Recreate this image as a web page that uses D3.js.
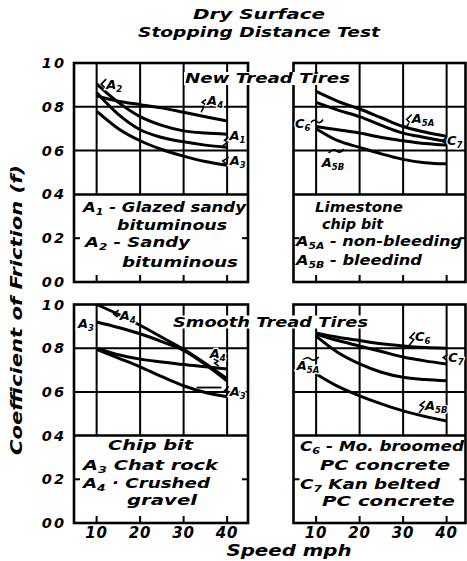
<!DOCTYPE html>
<html><head><meta charset="utf-8">
<script src="https://cdn.jsdelivr.net/npm/d3@7"></script>
<style>
html,body{margin:0;padding:0;background:#fff;}
svg{display:block;}
text{font-family:"DejaVu Sans",sans-serif;font-weight:bold;font-style:oblique;fill:#000;}
</style></head><body>
<svg id="c" width="467" height="561"></svg>
<script>
// ---------------- data ----------------
const speeds = [10, 15, 20, 25, 30, 35, 40];
const xTicks = [10, 20, 30, 40];
const xTickLabels = ["10", "20", "30", "40"];
const yTicks = [1.0, 0.8, 0.6, 0.4, 0.2, 0.0];
const yTickLabels = ["10", "08", "06", "04", "02", "00"];

// New tread tires - bituminous surfaces
const newA4 = [0.85, 0.825, 0.81, 0.795, 0.775, 0.755, 0.735];
const newA2 = [0.905, 0.82, 0.755, 0.715, 0.69, 0.68, 0.675];
const newA1 = [0.865, 0.765, 0.695, 0.66, 0.64, 0.625, 0.615];
const newA3 = [0.78, 0.70, 0.645, 0.605, 0.575, 0.55, 0.533];
// New tread tires - limestone chip / concrete
const newA5A = [0.87, 0.825, 0.79, 0.75, 0.71, 0.685, 0.665];
const newC7  = [0.82, 0.785, 0.755, 0.715, 0.68, 0.66, 0.642];
const newC6  = [0.71, 0.695, 0.68, 0.66, 0.645, 0.632, 0.625];
const newA5B = [0.70, 0.645, 0.615, 0.585, 0.56, 0.545, 0.54];
// Smooth tread tires - chip bit
const smA4a = [1.0, 0.955, 0.905, 0.85, 0.795, 0.73, 0.66];
const smA3a = [0.92, 0.895, 0.866, 0.83, 0.79, 0.725, 0.65];
const smA4b = [0.80, 0.77, 0.75, 0.737, 0.725, 0.715, 0.705];
const smA3b = [0.795, 0.755, 0.715, 0.67, 0.628, 0.597, 0.578];
// Smooth tread tires - concrete / limestone
const smC6  = [0.87, 0.85, 0.835, 0.82, 0.81, 0.803, 0.80];
const smC7  = [0.865, 0.835, 0.81, 0.785, 0.76, 0.742, 0.728];
const smA5A = [0.855, 0.78, 0.728, 0.69, 0.667, 0.657, 0.651];
const smA5B = [0.682, 0.625, 0.582, 0.545, 0.513, 0.488, 0.467];

const titleLines = ["Dry  Surface", "Stopping Distance Test"];
const yTitle = "Coefficient of Friction (f)";
const xTitle = "Speed mph";
const bandTop = "New Tread Tires";
const bandBottom = "Smooth Tread Tires";
const legendTL = ["A_{1} - Glazed sandy", "bituminous", "A_{2} - Sandy", "bituminous"];
const legendTR = ["Limestone", "chip bit", "A_{5A} - non-bleeding", "A_{5B} - bleedind"];
const legendBL = ["Chip bit", "A_{3} Chat rock", "A_{4} · Crushed", "gravel"];
const legendBR = ["C_{6} - Mo. broomed", "PC concrete", "C_{7} Kan belted", "PC concrete"];

// ---------------- layout ----------------
const svg = d3.select("#c");
const xL = d3.scaleLinear().domain([4.8, 44.8]).range([74, 248]);
const xR = d3.scaleLinear().domain([4.8, 44.8]).range([293.5, 467.5]);
const yT = d3.scaleLinear().domain([0, 1]).range([282, 63]);
const yB = d3.scaleLinear().domain([0, 1]).range([523, 304.5]);
const RIGHT_EDGE = 465.5;

function rich(sel, str, subSize) {
  const parts = str.split(/(_\{[^}]*\})/).filter(s => s.length);
  let shifted = false;
  parts.forEach(p => {
    if (p.startsWith("_{")) {
      sel.append("tspan").attr("font-size", subSize).attr("dy", 3).text(p.slice(2, -1));
      shifted = true;
    } else {
      sel.append("tspan").attr("dy", shifted ? -3 : 0).text(p);
      shifted = false;
    }
  });
}

function drawPanel(x, y, seriesList, labels, legend, legendLayout, showY) {
  const g = svg.append("g");
  const x0 = x.range()[0], x1 = Math.min(x.range()[1], RIGHT_EDGE);
  g.selectAll(".vg").data(xTicks).join("line")
    .attr("x1", d => x(d)).attr("x2", d => x(d))
    .attr("y1", y(1)).attr("y2", y(0.4))
    .attr("stroke", "#000").attr("stroke-width", 2);
  g.selectAll(".hg").data([0.8, 0.6]).join("line")
    .attr("x1", x0).attr("x2", x1).attr("y1", d => y(d)).attr("y2", d => y(d))
    .attr("stroke", "#000").attr("stroke-width", 2);
  g.append("line").attr("x1", x0).attr("x2", x1).attr("y1", y(0.4)).attr("y2", y(0.4))
    .attr("stroke", "#000").attr("stroke-width", 2.5);
  g.selectAll(".bt").data(xTicks).join("line")
    .attr("x1", d => x(d)).attr("x2", d => x(d))
    .attr("y1", y(0)).attr("y2", y(0) - 7)
    .attr("stroke", "#000").attr("stroke-width", 2);
  g.append("line").attr("x1", x0).attr("x2", x0 + 6).attr("y1", y(0.2)).attr("y2", y(0.2))
    .attr("stroke", "#000").attr("stroke-width", 2);
  g.append("line").attr("x1", x1 - 6).attr("x2", x1).attr("y1", y(0.2)).attr("y2", y(0.2))
    .attr("stroke", "#000").attr("stroke-width", 2);
  g.append("rect").attr("x", x0).attr("y", y(1)).attr("width", x1 - x0).attr("height", y(0) - y(1))
    .attr("fill", "none").attr("stroke", "#000").attr("stroke-width", 2.6);
  const line = d3.line().x((d, i) => x(speeds[i])).y(d => y(d)).curve(d3.curveMonotoneX);
  seriesList.forEach(s => {
    g.append("path").attr("d", line(s)).attr("fill", "none")
      .attr("stroke", "#000").attr("stroke-width", 3);
  });
  labels.forEach(l => {
    const px = x(l.s), py = y(l.v);
    if (l.lead) g.append("path").attr("d", l.lead).attr("transform", `translate(${px},${py})`)
      .attr("fill", "none").attr("stroke", "#000").attr("stroke-width", 1.6);
    if (l.hline) g.append("line").attr("x1", x(l.hline[0])).attr("x2", x(l.hline[1]))
      .attr("y1", y(l.hline[2])).attr("y2", y(l.hline[2])).attr("stroke", "#000").attr("stroke-width", 1.8);
    const t = g.append("text").attr("x", px).attr("y", py).attr("font-size", 13)
      .attr("stroke", "#fff").attr("stroke-width", 2.5).attr("paint-order", "stroke");
    rich(t, l.t, 8.5);
  });
  legend.forEach((str, i) => {
    const L = legendLayout[i];
    const t = g.append("text").attr("x", L[0]).attr("y", L[1]).attr("font-size", 13.5)
      .attr("textLength", L[2]).attr("lengthAdjust", "spacingAndGlyphs");
    rich(t, str, 9);
  });
  if (showY) {
    g.selectAll(".yl").data(yTicks).join("text")
      .attr("x", 66).attr("y", d => y(d) + 5).attr("text-anchor", "end")
      .attr("font-size", 14.5).attr("letter-spacing", 2)
      .text((d, i) => yTickLabels[i]);
  }
  return g;
}

drawPanel(xL, yT, [newA4, newA2, newA1, newA3], [
  {t: "A_{2}", s: 12.2, v: 0.881, lead: "M0,-10 L-5,-5 L-1,-1"},
  {t: "A_{4}", s: 35.4, v: 0.807, lead: "M-1,-6 L-5,-3 L-2,-1 L-6,7"},
  {t: "A_{1}", s: 40.55, v: 0.648, lead: "M-1,-3 L-5,0 L-2,2 L-7,6"},
  {t: "A_{3}", s: 40.6, v: 0.534, lead: "M-1,-8 L-7,-4 L-3,-1"}
], legendTL, [[83, 211.5, 163], [117, 230, 110], [85, 246.5, 105], [122, 266.5, 116]], true);

drawPanel(xR, yT, [newA5A, newC7, newC6, newA5B], [
  {t: "C_{6}", s: 5.14, v: 0.701, lead: "M16,-6 Q19,-10 22,-7 T28,-9"},
  {t: "A_{5A}", s: 31.97, v: 0.724, lead: "M0,-9 L-5,-4 L-2,-1 L-6,4"},
  {t: "C_{7}", s: 40.09, v: 0.626, lead: "M-1,-7 L-5,-4 L-1,-1"},
  {t: "A_{5B}", s: 11.28, v: 0.525, lead: "M7,-14 Q11,-19 15,-16 T22,-18"}
], legendTR, [[315, 211.5, 88], [322, 229, 61], [296, 245.5, 166], [296, 265, 126]], false);

drawPanel(xL, yB, [smA4a, smA3a, smA4b, smA3b], [
  {t: "A_{3}", s: 5.72, v: 0.892},
  {t: "A_{4}", s: 15.3, v: 0.929, lead: "M-1,-10 L-6,-6 L-2,-3"},
  {t: "A_{4}", s: 36.0, v: 0.755, lead: "M4,1 L9,3 L5,5 L9,8"},
  {t: "A_{3}", s: 40.6, v: 0.579, lead: "M-1,-10 L-5,-6 L-1,-4 L-5,0", hline: [33, 38.7, 0.62]}
], legendBL, [[108, 450, 85], [83, 469.5, 135], [83, 488, 127], [127, 505, 70]], true);

drawPanel(xR, yB, [smC6, smC7, smA5A, smA5B], [
  {t: "C_{6}", s: 32.73, v: 0.831, lead: "M0,-9 L-5,-4 L-1,-2 L-6,4"},
  {t: "C_{7}", s: 40.39, v: 0.739, lead: "M-1,-7 L-5,-4 L-1,-1"},
  {t: "A_{5A}", s: 5.54, v: 0.700, lead: "M6,-10 Q10,-14 14,-11 T22,-13"},
  {t: "A_{5B}", s: 35.03, v: 0.517, lead: "M0,-9 L-5,-5 L-1,-3 L-6,3"}
], legendBR, [[300, 451, 164], [320, 469.5, 130], [300, 488.5, 140], [322, 506, 133]], false);

function band(str, cx, base, len) {
  const t = svg.append("text").attr("x", cx).attr("y", base).attr("text-anchor", "middle")
    .attr("font-size", 14.5).attr("textLength", len).attr("lengthAdjust", "spacingAndGlyphs").text(str);
  const b = t.node().getBBox();
  svg.insert("rect", () => t.node()).attr("x", b.x - 1).attr("y", b.y + 2)
    .attr("width", b.width + 2).attr("height", b.height - 3).attr("fill", "#fff");
}
band(bandTop, 267.5, 83, 165);
band(bandBottom, 270.5, 326.5, 195);

[xL, xR].forEach(x => {
  svg.append("g").selectAll("text").data(xTicks).join("text")
    .attr("x", d => x(d)).attr("y", 538).attr("text-anchor", "middle")
    .attr("font-size", 15).attr("letter-spacing", 1)
    .text((d, i) => xTickLabels[i]);
});

svg.append("text").attr("x", 259).attr("y", 19).attr("text-anchor", "middle")
  .attr("font-size", 14.5).attr("textLength", 132).attr("lengthAdjust", "spacingAndGlyphs").text(titleLines[0]);
svg.append("text").attr("x", 259).attr("y", 37).attr("text-anchor", "middle")
  .attr("font-size", 14.5).attr("textLength", 242).attr("lengthAdjust", "spacingAndGlyphs").text(titleLines[1]);
svg.append("text").attr("x", 289).attr("y", 556).attr("text-anchor", "middle")
  .attr("font-size", 15).attr("textLength", 125).attr("lengthAdjust", "spacingAndGlyphs").text(xTitle);
svg.append("text").attr("transform", "translate(21.5,310) rotate(-90)").attr("text-anchor", "middle")
  .attr("font-size", 15).attr("textLength", 290).attr("lengthAdjust", "spacingAndGlyphs").text(yTitle);
</script>
</body></html>
